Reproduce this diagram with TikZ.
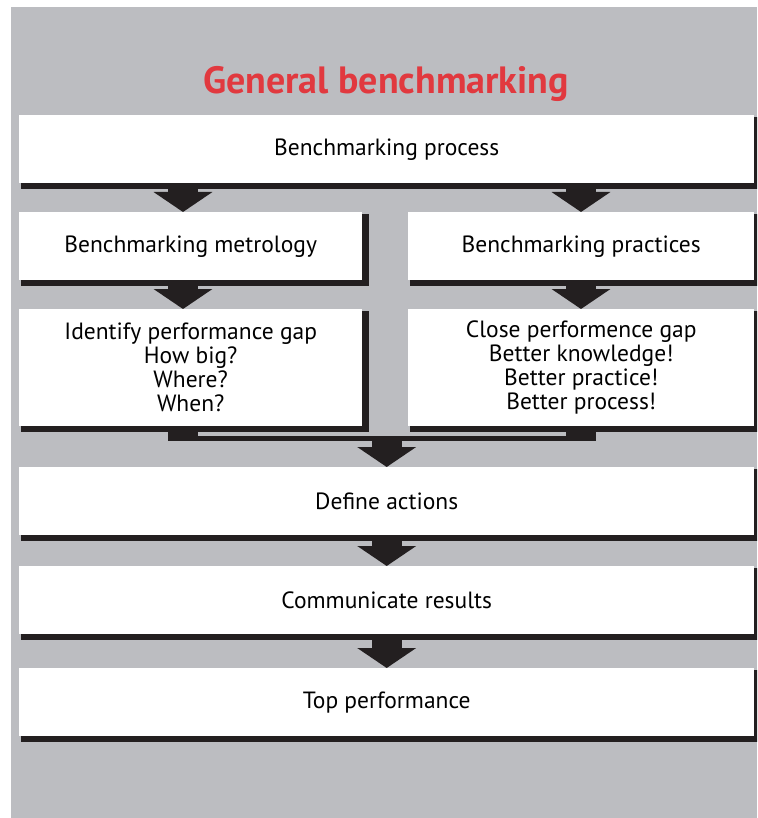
\documentclass[tikz,border=0pt]{standalone}
\usepackage{fontspec}
\setmainfont{PT Sans}
\usepackage{tikz}
\usetikzlibrary{arrows.meta}
\usetikzlibrary{positioning}
\usetikzlibrary{calc}
\definecolor{panel}{HTML}{BCBDC1}
\definecolor{ink}{HTML}{231F20}
\definecolor{headred}{HTML}{E1393F}
\newcommand{\boxfont}{\fontsize{23.5}{24}\selectfont}
\newcommand{\headfont}{\fontsize{38}{42}\selectfont\bfseries}

\begin{document}
\begin{tikzpicture}[
  x=1pt, y=-1pt,
  stage/.style 2 args={
    rectangle,
    fill=white,
    minimum width=#1,
    minimum height=#2,
    inner sep=0pt,
    anchor=north west,
    align=center,
    font=\boxfont},
  shade/.style 2 args={
    rectangle,
    fill=ink,
    minimum width=#1+5pt,
    minimum height=#2+4pt,
    inner sep=0pt,
    anchor=north west},
  flow/.style={
    draw=ink, line width=30pt,
    -{Triangle[width=58pt,length=20pt]}},
  stem/.style={
    draw=ink, line width=30pt},
]

  \def\lft{19}%
  \def\fullw{735pt}%
  \def\boxh{68pt}%

  \useasboundingbox (0,0) rectangle (757,818);
  \clip (0,0) rectangle (757,818);
  \fill[panel] (11,7) rectangle (757,818);

  \node[font=\headfont, text=headred] (title) at (386,84) {General benchmarking};

    % full width steps
  \foreach \name/\top/\txt in {proc/115/Benchmarking process,
                              act/467/Define actions,
                              comm/566/Communicate results,
                              perf/668/Top performance} {
    \node[shade={\fullw}{\boxh}] at (\lft+2, \top+2) {};
    \node[stage={\fullw}{\boxh}] (\name) at (\lft, \top) {\txt};
  }

    % two columns
  \node[shade={343pt}{\boxh}] at (\lft+2, 214) {};
  \node[stage={343pt}{\boxh}] (metr) at (\lft, 212) {Benchmarking metrology};
  \node[shade={346pt}{\boxh}] at (410, 214) {};
  \node[stage={346pt}{\boxh}] (prac) at (408, 212) {Benchmarking practices};

  \node[shade={343pt}{117pt}] at (\lft+2, 311) {};
  \node[stage={343pt}{117pt}] (gapl) at (\lft, 309)
    {Identify performance gap\\How big?\\Where?\\When?};
  \node[shade={346pt}{117pt}] at (410, 311) {};
  \node[stage={346pt}{117pt}] (gapr) at (408, 309)
    {Close performence gap\\Better knowledge!\\Better practice!\\Better process!};

    % arrows
  \coordinate (colL) at (183,0);
  \coordinate (colR) at (581,0);
  \coordinate (join) at (0,441);

  \draw[flow] (proc.south -| colL) -- (metr.north -| colL);
  \draw[flow] (proc.south -| colR) -- (prac.north -| colR);
  \draw[flow] (metr.south -| colL) -- (gapl.north -| colL);
  \draw[flow] (prac.south -| colR) -- (gapr.north -| colR);

  \draw[stem] (gapl.south -| colL) -- (join -| colL);
  \draw[stem] (gapr.south -| colR) -- (join -| colR);
  \draw[draw=ink, line width=5pt]
    ($ (join -| colL) + (-15,-2.5) $) -- ($ (join -| colR) + (15,-2.5) $);
  \draw[flow] (join -| act.north) -- (act.north);

  \draw[flow] (act.south) -- (comm.north);
  \draw[flow] (comm.south) -- (perf.north);

\end{tikzpicture}
\end{document}
